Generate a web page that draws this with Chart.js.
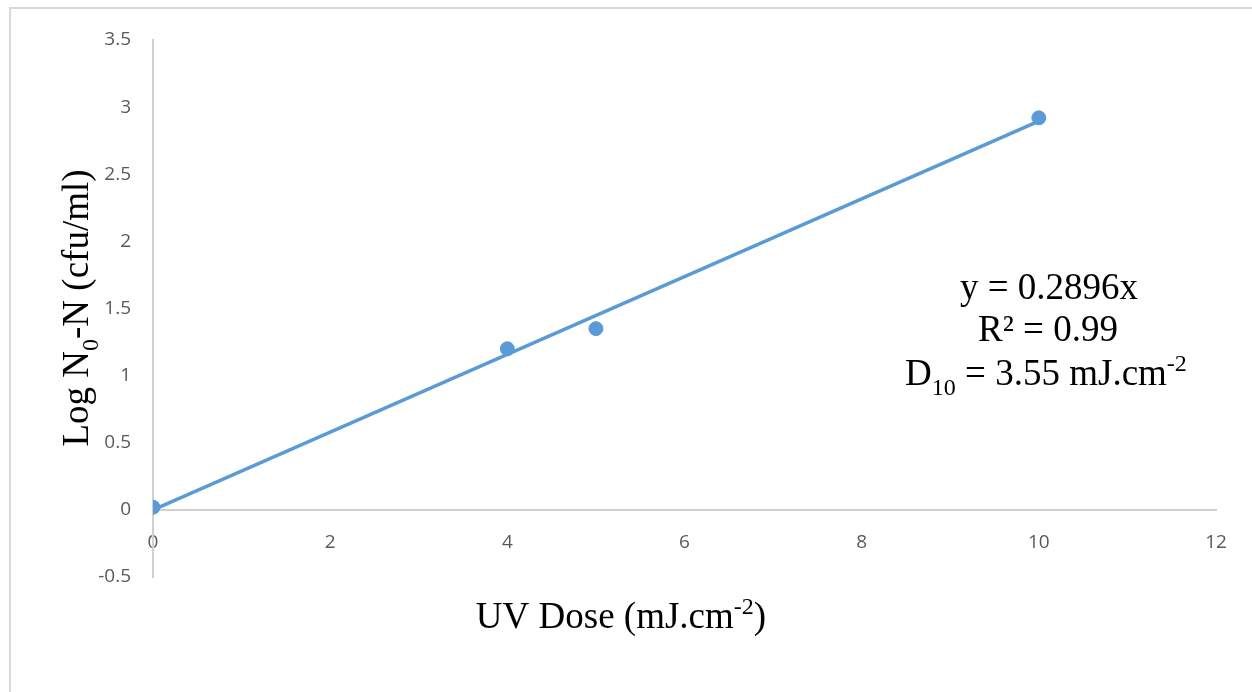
<!DOCTYPE html>
<html>
<head>
<meta charset="utf-8">
<script src="https://cdn.jsdelivr.net/npm/chart.js@4.4.0/dist/chart.umd.min.js"></script>
<style>
  html, body { margin: 0; padding: 0; background: #fff; }
  #wrap { position: relative; width: 1252px; height: 692px; overflow: hidden; }
  #frame { position: absolute; left: 9px; top: 7px; width: 1300px; height: 760px; border: 2px solid #d9d9d9; box-sizing: border-box; }
</style>
</head>
<body>
<div id="wrap">
  <div id="frame"></div>
  <canvas id="chart" width="1252" height="692" style="position:absolute;left:0;top:0"></canvas>
</div>
<script>
// ---- data ----
const doses = [0, 4, 5, 10];
const logReduction = [0.02, 1.2, 1.35, 2.92];
const trendX = [0, 10];
const trendY = [0, 2.896];      // y = 0.2896x
const xTicks = [0, 2, 4, 6, 8, 10, 12];
const yTicks = [-0.5, 0, 0.5, 1, 1.5, 2, 2.5, 3, 3.5];

const BLUE = '#5b9bd5';
const SERIF = '"Liberation Serif", "Times New Roman", serif';
const TICK_FONT = { family: '"Open Sans", Lato, sans-serif', size: 19 };

// draw text with simple sub/superscript pieces
function drawRich(ctx, segs, x, y, size, align) {
  const widths = segs.map(s => {
    const fs = s.sub || s.sup ? size * 0.65 : size;
    ctx.font = fs + 'px ' + SERIF;
    return ctx.measureText(s.t).width;
  });
  const total = widths.reduce((a, b) => a + b, 0);
  let cx = align === 'center' ? x - total / 2 : x;
  ctx.textBaseline = 'alphabetic';
  ctx.textAlign = 'left';
  segs.forEach((s, i) => {
    const fs = s.sub || s.sup ? size * 0.65 : size;
    ctx.font = fs + 'px ' + SERIF;
    let dy = 0;
    if (s.sub) dy = size * 0.28;
    if (s.sup) dy = -size * 0.38;
    ctx.fillText(s.t, cx, y + dy);
    cx += widths[i];
  });
}

const textPlugin = {
  id: 'labels',
  afterDraw(chart) {
    const ctx = chart.ctx;
    ctx.save();
    ctx.fillStyle = '#000';
    // x axis title
    drawRich(ctx, [{ t: 'UV Dose (mJ.cm' }, { t: '-2', sup: true }, { t: ')' }], 621, 628, 37, 'center');
    // y axis title
    ctx.save();
    ctx.translate(88, 308);
    ctx.rotate(-Math.PI / 2);
    drawRich(ctx, [{ t: 'Log N' }, { t: '0', sub: true }, { t: '-N (cfu/ml)' }], 0, 0, 37, 'center');
    ctx.restore();
    // equation box
    drawRich(ctx, [{ t: 'y = 0.2896x' }], 1049, 299, 37, 'center');
    drawRich(ctx, [{ t: 'R² = 0.99' }], 1048, 341, 37, 'center');
    drawRich(ctx, [{ t: 'D' }, { t: '10', sub: true }, { t: ' = 3.55 mJ.cm' }, { t: '-2', sup: true }], 1046, 385, 37, 'center');
    ctx.restore();
  }
};

document.addEventListener('DOMContentLoaded', () => {
  const ctx = document.getElementById('chart').getContext('2d');
  new Chart(ctx, {
    type: 'scatter',
    data: {
      datasets: [
        {
          label: 'Trend',
          data: trendX.map((x, i) => ({ x, y: trendY[i] })),
          showLine: true,
          borderColor: BLUE,
          borderWidth: 3.5,
          pointRadius: 0,
          order: 2
        },
        {
          label: 'Log N0-N',
          data: doses.map((x, i) => ({ x, y: logReduction[i] })),
          backgroundColor: BLUE,
          borderColor: BLUE,
          pointRadius: 7,
          order: 1
        }
      ]
    },
    options: {
      responsive: false,
      animation: false,
      layout: { padding: { left: 20, right: 36, top: 40, bottom: 115 } },
      plugins: { legend: { display: false }, tooltip: { enabled: false } },
      scales: {
        x: {
          type: 'linear',
          position: { y: 0 },
          min: 0, max: 12,
          afterBuildTicks: s => { s.ticks = xTicks.map(v => ({ value: v })); },
          grid: { display: false, drawTicks: false },
          border: { display: true, color: '#d0d0d0', width: 2 },
          ticks: { color: '#595959', padding: 21, font: TICK_FONT, callback: v => String(v) }
        },
        y: {
          type: 'linear',
          position: 'left',
          min: -0.5, max: 3.5,
          afterBuildTicks: s => { s.ticks = yTicks.map(v => ({ value: v })); },
          afterFit: s => { s.width = 133; },
          grid: { display: false, drawTicks: false },
          border: { display: true, color: '#d0d0d0', width: 2 },
          ticks: { color: '#595959', padding: 22, font: TICK_FONT, callback: v => String(v) }
        }
      }
    },
    plugins: [textPlugin]
  });
});
</script>
</body>
</html>
